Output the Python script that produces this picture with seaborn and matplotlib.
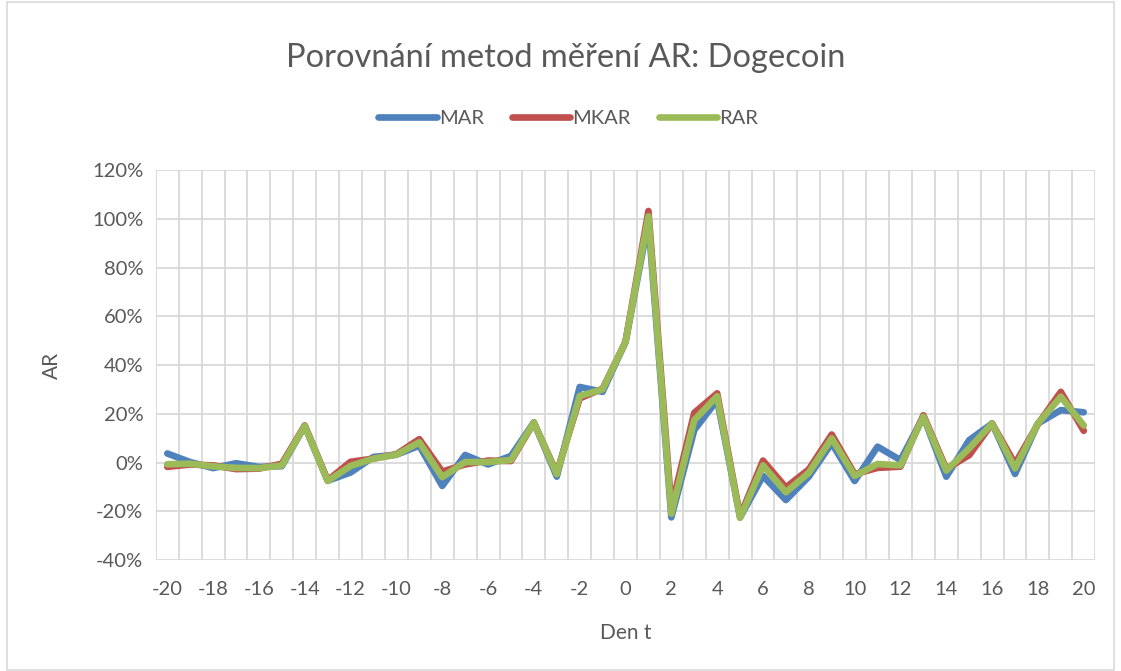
import seaborn as sns
import matplotlib.pyplot as plt
import matplotlib.ticker as mticker
from matplotlib.patches import Rectangle
import numpy as np
import pandas as pd

# data (AR in %)
days = list(range(-20, 21))
mar = [3.7, 0.2, -2.3, -0.3, -1.8, -1.5, 15.0, -7.5, -4.1, 2.3, 3.2, 6.9, -9.6, 3.1, -0.8, 2.7,
       16.5, -5.8, 31.0, 29.0, 49.5, 99.0, -22.5, 13.3, 25.6, -22.5, -5.5, -15.4, -5.8, 7.9,
       -7.6, 6.5, 1.0, 18.8, -5.8, 9.2, 16.0, -4.7, 16.0, 21.5, 20.6]
mkar = [-1.8, -0.8, -1.2, -2.7, -2.5, -0.5, 15.2, -7.3, 0.3, 1.6, 3.4, 9.6, -3.7, -0.8, 0.8, 0.6,
        16.3, -4.3, 26.3, 30.3, 49.5, 103.2, -18.5, 20.4, 28.4, -22.0, 0.8, -10.2, -2.8, 11.5,
        -4.8, -2.2, -1.7, 19.4, -2.6, 3.0, 16.0, -0.5, 15.8, 29.0, 13.0]
rar = [-0.7, -0.5, -1.6, -2.2, -2.3, -1.2, 15.0, -7.6, -1.4, 1.6, 3.2, 8.3, -6.0, 0.2, 0.2, 1.0,
       16.5, -4.8, 27.3, 30.0, 49.5, 101.0, -21.0, 17.4, 27.2, -22.7, -1.2, -12.2, -4.2, 9.9,
       -5.5, -0.6, -1.2, 18.8, -3.3, 5.8, 16.0, -2.4, 16.0, 27.0, 15.2]
series = ['MAR', 'MKAR', 'RAR']
colors = ['#4F81BD', '#C0504D', '#9BBB59']

df = pd.DataFrame({'Den': days * 3,
                   'AR': np.array(mar + mkar + rar) / 100,
                   'Metoda': sum([[s] * len(days) for s in series], [])})

sns.set_style('white')
plt.rcParams['font.family'] = ['Lato', 'DejaVu Sans']
plt.rcParams['axes.unicode_minus'] = False
txt = '#595959'
grid = '#D9D9D9'

fig = plt.figure(figsize=(11.21, 6.71), dpi=100)
ax = fig.add_axes([0.139, 0.1654, 0.838, 0.5812])

sns.lineplot(data=df, x='Den', y='AR', hue='Metoda', palette=colors, linewidth=4.8,
             ax=ax, solid_joinstyle='round', solid_capstyle='round')

ax.set_xlim(-20.5, 20.5)
ax.set_ylim(-0.4, 1.2)
ax.set_xticks(range(-20, 21, 2))
ax.set_xticks(np.arange(-20.5, 21, 1), minor=True)
ax.set_yticks(np.arange(-0.4, 1.21, 0.2))
ax.yaxis.set_major_formatter(mticker.PercentFormatter(1.0, decimals=0))
ax.grid(True, axis='y', which='major', color=grid, linewidth=1.3)
ax.grid(True, axis='x', which='minor', color=grid, linewidth=1.3)
ax.grid(False, axis='x', which='major')
ax.set_axisbelow(True)
ax.tick_params(which='both', length=0, labelsize=14.5, colors=txt)
ax.tick_params(axis='x', pad=15)
ax.tick_params(axis='y', pad=9)
for s in ax.spines.values():
    s.set_visible(False)

ax.set_xlabel('Den t', fontsize=15, color=txt, labelpad=18)
ax.set_ylabel('AR', fontsize=15, color=txt, labelpad=22)

ax.legend(handles=ax.get_legend().legend_handles, labels=series, ncol=3, frameon=False,
          loc='center', bbox_to_anchor=(0.507, 0.823), bbox_transform=fig.transFigure,
          fontsize=14.5, labelcolor=txt, handlelength=2.9, handletextpad=0.1, columnspacing=1.4)

fig.text(0.505, 0.914, 'Porovnání metod měření AR: Dogecoin', ha='center', va='center',
         fontsize=23.5, color=txt)
fig.patches.append(Rectangle((0.006, 0.002), 0.988, 0.995, transform=fig.transFigure,
                             fill=False, edgecolor=grid, linewidth=1.2))

fig.savefig('out.png', dpi=100)
